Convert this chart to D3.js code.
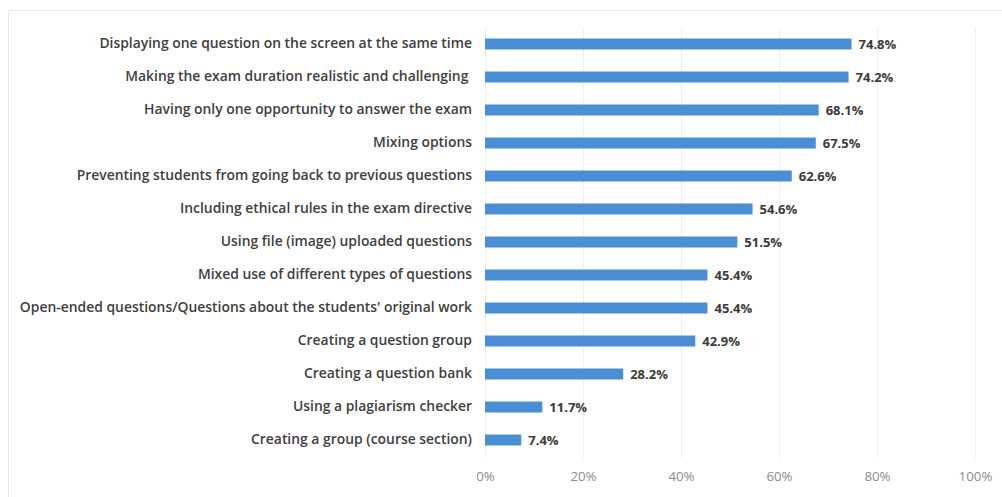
<!DOCTYPE html>
<html>
<head>
<meta charset="utf-8">
<script src="https://cdn.jsdelivr.net/npm/d3@7"></script>
<style>
  html, body { margin: 0; padding: 0; background: #fff; }
  svg { display: block; }
</style>
</head>
<body>
<div id="chart"></div>
<script>
// Survey items, listed top to bottom
const categories = [
  "Displaying one question on the screen at the same time",
  "Making the exam duration realistic and challenging ",
  "Having only one opportunity to answer the exam",
  "Mixing options",
  "Preventing students from going back to previous questions",
  "Including ethical rules in the exam directive",
  "Using file (image) uploaded questions",
  "Mixed use of different types of questions",
  "Open-ended questions/Questions about the students' original work",
  "Creating a question group",
  "Creating a question bank",
  "Using a plagiarism checker",
  "Creating a group (course section)"
];
// Share of respondents (%)
const values = [74.8, 74.2, 68.1, 67.5, 62.6, 54.6, 51.5, 45.4, 45.4, 42.9, 28.2, 11.7, 7.4];
const tickValues = [0, 20, 40, 60, 80, 100];

const W = 1002, H = 497;
const plotLeft = 485, plotRight = 975, plotTop = 27.5, plotBottom = 456.5;
const font = "'Open Sans', Lato, sans-serif";

const svg = d3.select("#chart").append("svg")
  .attr("width", W).attr("height", H);

// faint outer frame
svg.append("rect")
  .attr("x", 8.5).attr("y", 10.5)
  .attr("width", W - 8).attr("height", H)
  .attr("fill", "none").attr("stroke", "#e6e6e6");

const x = d3.scaleLinear().domain([0, 100]).range([plotLeft, plotRight]);
const y = d3.scaleBand().domain(categories).range([plotTop, plotBottom])
  .paddingInner(2 / 3).paddingOuter(1 / 3);

// vertical gridlines
svg.append("g")
  .selectAll("line").data(tickValues).join("line")
  .attr("x1", d => Math.round(x(d)) + 0.5).attr("x2", d => Math.round(x(d)) + 0.5)
  .attr("y1", 28).attr("y2", 458)
  .attr("stroke", "#efefef").attr("stroke-width", 1);

// x-axis labels
const xAxis = d3.axisBottom(x).tickValues(tickValues).tickFormat(d => d + "%").tickSize(0).tickPadding(0);
const gx = svg.append("g").attr("transform", `translate(0,${472})`).call(xAxis);
gx.select(".domain").remove();
gx.selectAll("text")
  .attr("font-family", font)
  .attr("font-size", 13.3).attr("fill", "#8c8c8c");

// category labels
const yAxis = d3.axisLeft(y).tickSize(0).tickPadding(13);
const gy = svg.append("g").attr("transform", `translate(${plotLeft},0)`).call(yAxis);
gy.select(".domain").remove();
gy.selectAll("text")
  .attr("font-family", font)
  .attr("font-weight", 600)
  .attr("font-size", 13.9).attr("fill", "#404040")
  .style("white-space", "pre");

// bars
svg.append("g")
  .selectAll("rect").data(values).join("rect")
  .attr("x", x(0))
  .attr("y", (d, i) => y(categories[i]))
  .attr("width", d => x(d) - x(0))
  .attr("height", y.bandwidth())
  .attr("fill", "#4a8fd6");

// value labels
svg.append("g")
  .selectAll("text").data(values).join("text")
  .attr("x", d => x(d) + 7)
  .attr("y", (d, i) => y(categories[i]) + y.bandwidth() / 2)
  .attr("dy", "0.4em")
  .attr("font-family", font)
  .attr("font-weight", "bold")
  .attr("font-size", 13).attr("fill", "#3a3a3a")
  .text(d => d.toFixed(1) + "%");
</script>
</body>
</html>
